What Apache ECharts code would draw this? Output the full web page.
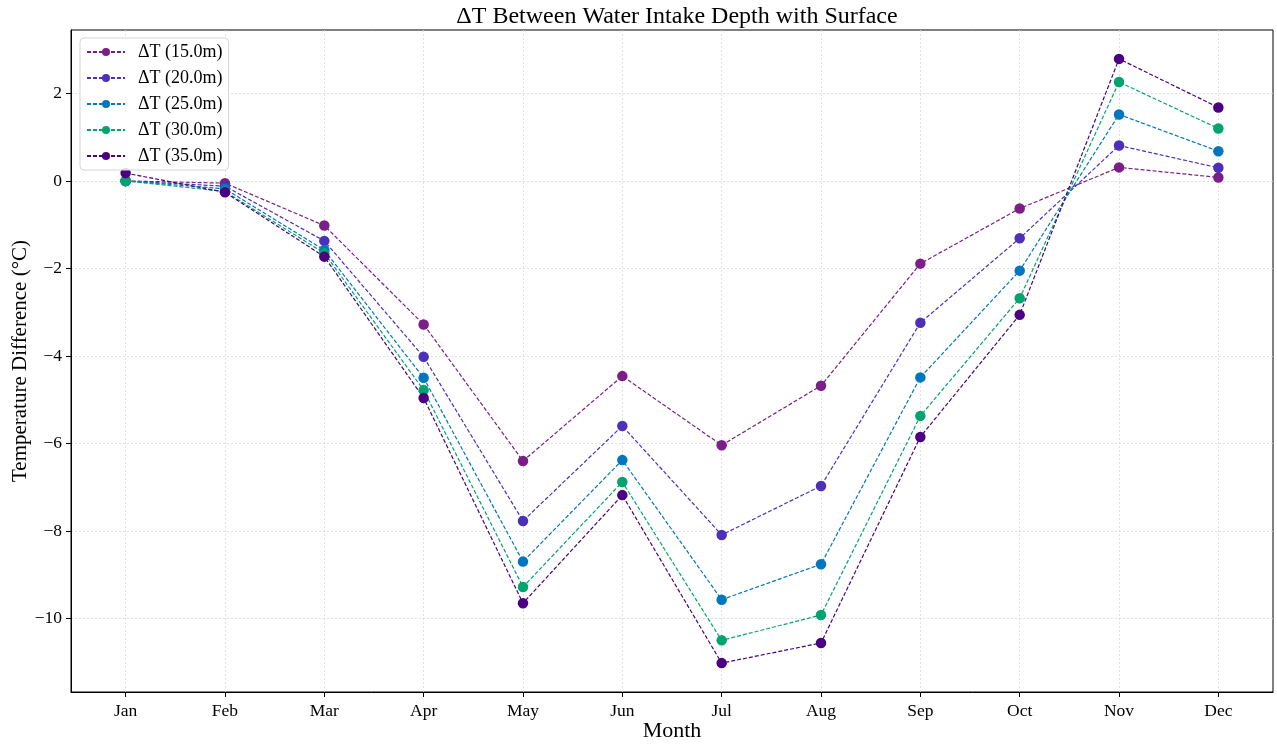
<!DOCTYPE html>
<html>
<head>
<meta charset="utf-8">
<script src="https://cdn.jsdelivr.net/npm/echarts@6/dist/echarts.min.js"></script>
<style>
html,body{margin:0;padding:0;background:#fff;}
#chart{width:1277px;height:746px;}
</style>
</head>
<body>
<div id="chart"></div>
<script>
const months = ['Jan','Feb','Mar','Apr','May','Jun','Jul','Aug','Sep','Oct','Nov','Dec'];
const seriesNames = ['ΔT (15.0m)','ΔT (20.0m)','ΔT (25.0m)','ΔT (30.0m)','ΔT (35.0m)'];
const dT15 = [0.00, -0.05, -1.02, -3.28, -6.40, -4.46, -6.04, -4.68, -1.89, -0.63, 0.31, 0.08];
const dT20 = [0.00, -0.12, -1.37, -4.02, -7.77, -5.60, -8.09, -6.97, -3.24, -1.31, 0.81, 0.30];
const dT25 = [0.00, -0.18, -1.58, -4.50, -8.70, -6.38, -9.57, -8.76, -4.49, -2.05, 1.52, 0.68];
const dT30 = [0.00, -0.24, -1.65, -4.78, -9.28, -6.88, -10.50, -9.92, -5.37, -2.68, 2.26, 1.20];
const dT35 = [0.18, -0.26, -1.73, -4.96, -9.65, -7.18, -11.02, -10.56, -5.85, -3.06, 2.79, 1.68];
const yTicks = [-10, -8, -6, -4, -2, 0, 2];
const colors = ['#7a1f86', '#4c30b9', '#0076be', '#00a46e', '#4a0080'];

const allData = [dT15, dT20, dT25, dT30, dT35];
const xIdx = months.map((m, i) => i);
const font = '"Liberation Serif", "DejaVu Serif", serif';

const chart = echarts.init(document.getElementById('chart'));
chart.setOption({
  animation: false,
  backgroundColor: '#fff',
  title: {
    text: 'ΔT Between Water Intake Depth with Surface',
    left: 672, top: 0, textAlign: 'center',
    textStyle: { fontFamily: font, fontSize: 24, fontWeight: 'normal', color: '#000' }
  },
  grid: { left: 71, right: 4, top: 30, bottom: 54, outerBoundsMode: 'none', containLabel: false,
    show: true, borderColor: '#000', borderWidth: 1, backgroundColor: 'transparent' },
  legend: {
    orient: 'vertical', left: 80, top: 38, z: 20,
    padding: [5, 6, 5, 6], itemGap: 8, itemWidth: 38, itemHeight: 10,
    backgroundColor: 'rgba(255,255,255,0.85)', borderColor: '#d5d5d5', borderWidth: 1, borderRadius: 4,
    textStyle: { fontFamily: font, fontSize: 18, color: '#000', padding: [0, 0, 0, 8] },
    data: seriesNames
  },
  xAxis: {
    type: 'value', min: -0.55, max: 11.55,
    name: 'Month', nameLocation: 'middle', nameGap: 28, nameMoveOverlap: false,
    nameTextStyle: { fontFamily: font, fontSize: 22, color: '#000' },
    axisLine: { show: true, onZero: false, lineStyle: { color: '#000', width: 1 } },
    axisTick: { show: true, inside: false, length: 5, customValues: xIdx, lineStyle: { color: '#000' } },
    axisLabel: { customValues: xIdx, fontFamily: font, fontSize: 17.5, color: '#000', margin: 10,
      formatter: v => months[Math.round(v)] || '' },
    splitLine: { show: true, lineStyle: { color: '#d9d9d9', type: [2, 2], width: 0.8 } }
  },
  yAxis: {
    type: 'value', min: -11.68, max: 3.45,
    name: 'Temperature Difference (°C)', nameLocation: 'middle', nameGap: 40, nameMoveOverlap: false,
    nameTextStyle: { fontFamily: font, fontSize: 21, color: '#000' },
    axisLine: { show: true, onZero: false, lineStyle: { color: '#000', width: 1 } },
    axisTick: { show: true, inside: false, length: 5, customValues: yTicks, lineStyle: { color: '#000' } },
    axisLabel: { customValues: yTicks, fontFamily: font, fontSize: 17.5, color: '#000', margin: 9,
      formatter: v => String(v).replace('-', '\u2212') },
    splitLine: { show: true, lineStyle: { color: '#d9d9d9', type: [2, 2], width: 0.8 } }
  },
  series: allData.map((d, k) => ({
    name: seriesNames[k],
    type: 'line',
    data: d.map((v, i) => [xIdx[i], v]),
    symbol: 'circle', symbolSize: 10.5,
    itemStyle: { color: colors[k] },
    lineStyle: { color: colors[k], width: 1.2, type: [4, 2] }
  }))
});
</script>
</body>
</html>
